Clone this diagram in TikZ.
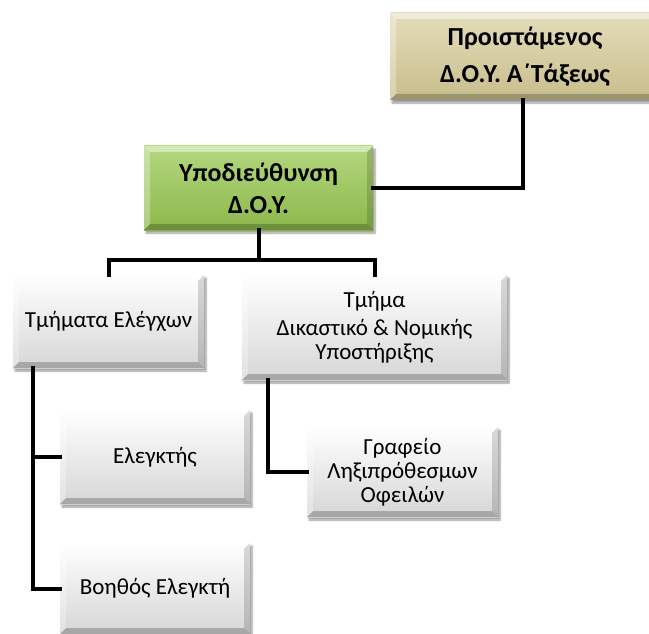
\documentclass[tikz,border=0pt]{standalone}
\usepackage{fontspec}
\setmainfont{Carlito}
\usetikzlibrary{shadows.blur}
\definecolor{tanT}{HTML}{E4DDBB}
\definecolor{tanB}{HTML}{C8BD8B}
\definecolor{grT}{HTML}{B4D77E}
\definecolor{grB}{HTML}{8CB84B}
\definecolor{gyT}{HTML}{FFFFFF}
\definecolor{gyB}{HTML}{D6D6D6}
\tikzset{
  bevel/.style={path picture={
    \fill[white,opacity=0.45] (path picture bounding box.north west) -- (path picture bounding box.north east)
      -- ([shift={(-6pt,-6pt)}]path picture bounding box.north east) -- ([shift={(6pt,-6pt)}]path picture bounding box.north west) -- cycle;
    \fill[white,opacity=0.3] (path picture bounding box.north west) -- (path picture bounding box.south west)
      -- ([shift={(6pt,6pt)}]path picture bounding box.south west) -- ([shift={(6pt,-6pt)}]path picture bounding box.north west) -- cycle;
    \fill[black,opacity=0.22] (path picture bounding box.south west) -- (path picture bounding box.south east)
      -- ([shift={(-6pt,6pt)}]path picture bounding box.south east) -- ([shift={(6pt,6pt)}]path picture bounding box.south west) -- cycle;
    \fill[black,opacity=0.15] (path picture bounding box.north east) -- (path picture bounding box.south east)
      -- ([shift={(-6pt,6pt)}]path picture bounding box.south east) -- ([shift={(-6pt,-6pt)}]path picture bounding box.north east) -- cycle;
  }},
  box/.style={rectangle, inner sep=2pt, align=center, bevel,
    blur shadow={shadow xshift=2pt, shadow yshift=-3pt, shadow blur steps=6, shadow opacity=40},
    font=\fontsize{23}{24}\selectfont},
  graybox/.style={box, top color=gyT, bottom color=gyB},
  link/.style={line width=4pt, line cap=rect, line join=miter},
}
\begin{document}
\begin{tikzpicture}[x=1pt,y=-1pt]
\useasboundingbox (0,0) rectangle (649,634);
\node[box, top color=tanT, bottom color=tanB, minimum width=270pt, minimum height=87pt,
  font=\fontsize{26}{30}\selectfont\bfseries] (top) at (525,56.5)
  {Προιστάμενος\\[7pt]Δ.Ο.Υ. Α΄Τάξεως};
\node[box, top color=grT, bottom color=grB, minimum width=229pt, minimum height=84pt,
  font=\fontsize{26}{32}\selectfont\bfseries] (sub) at (258.5,188)
  {Υποδιεύθυνση\\Δ.Ο.Υ.};
\node[graybox, minimum width=191pt, minimum height=93pt] (tm1) at (108.5,321.5) {Τμήματα Ελέγχων};
\node[graybox, minimum width=265pt, minimum height=105pt] (tm2) at (374.5,327.5)
  {Τμήμα\\[4pt]Δικαστικό \& Νομικής\\Υποστήριξης};
\node[graybox, minimum width=190pt, minimum height=94pt] (el) at (155,457) {Ελεγκτής};
\node[graybox, minimum width=190pt, minimum height=91pt] (bo) at (155,588.5) {Βοηθός Ελεγκτή};
\node[graybox, minimum width=191pt, minimum height=90pt] (gr) at (402.5,472)
  {Γραφείο\\Ληξιπρόθεσμων\\Οφειλών};
\coordinate (bus) at (260,260);
\coordinate (ltrunk) at ([xshift=20pt]tm1.south west);
\coordinate (rtrunk) at ([xshift=26pt]tm2.south west);
\draw[link] ([xshift=-2pt]top.south) |- (sub.east);
\draw[link] (sub.south) -- (sub.south |- bus);
\draw[link] (tm1.north) |- (bus) -| (tm2.north);
\draw[link] (ltrunk) |- (el.west);
\draw[link] (ltrunk) |- (bo.west);
\draw[link] (rtrunk) |- (gr.west);
\end{tikzpicture}
\end{document}
